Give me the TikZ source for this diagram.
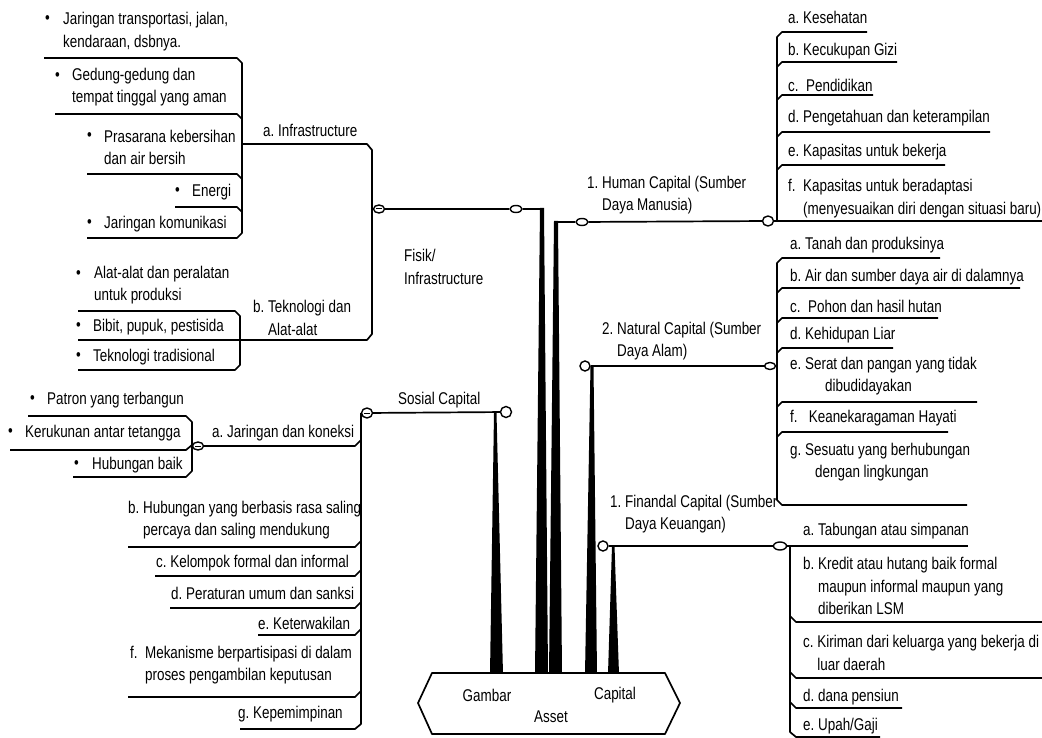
\documentclass[tikz,border=0pt]{standalone}
\usepackage{fontspec}
\newfontfamily\cond{Liberation Sans}[FakeStretch=0.79]
\usetikzlibrary{shapes.geometric}
\newcommand\fsz{\cond\fontsize{17}{22.5}\selectfont}
\begin{document}
\begin{tikzpicture}[x=1pt,y=-1pt,
  ln/.style={line width=1.7pt, line join=round},
  txt/.style={font=\fsz, inner sep=0pt, anchor=west, align=left, text=black},
  knob/.style={ellipse, draw, line width=1.4pt, fill=white, minimum width=11pt, minimum height=8pt, inner sep=0pt},
  rknob/.style={knob, minimum width=10pt, minimum height=10pt},
  knobbar/.style={knob, path picture={\draw[line width=1pt] ([xshift=-3pt]path picture bounding box.center) -- ([xshift=3pt]path picture bounding box.center);}},
  knobdot/.style={knob, minimum height=10pt, path picture={\fill (path picture bounding box.center) circle (1.3pt);}},
  spike/.style={fill=black}
]
\fill[white] (0,0) rectangle (1042,738);
\useasboundingbox (0,0) rectangle (1042,738);

% ---------- knobs ----------
\node[knobbar] (fk1) at (379,209) {};
\node[knob, minimum width=12pt, minimum height=7pt] (fk2) at (516,209) {};
\node[knob, minimum width=12pt, minimum height=7pt] (hk1) at (582,222) {};
\node[knobdot] (hk2) at (768,221) {};
\node[knobbar, minimum height=10pt] (sk1) at (367,413) {};
\node[rknob, minimum width=11pt, minimum height=11pt] (sk2) at (506,412) {};
\node[knobbar] (jk) at (198,446) {};
\node[rknob] (nk1) at (585,366) {};
\node[knob, minimum height=7pt] (nk2) at (770,366) {};
\node[rknob] (ck1) at (603,546) {};
\node[knob, minimum width=13pt] (ck2) at (780,546) {};

% ---------- spikes ----------
\fill[spike] (494,413) -- (496.5,413) -- (503,674) -- (490,674) -- cycle;
\fill[spike] (540,208) -- (544,208) -- (548,674) -- (535,674) -- cycle;
\fill[spike] (554,221) -- (558,221) -- (562,674) -- (549,674) -- cycle;
\fill[spike] (590.5,366) -- (593.5,366) -- (597,674) -- (585,674) -- cycle;
\fill[spike] (612,546) -- (614.5,546) -- (619,674) -- (608,674) -- cycle;

% ---------- Asset hexagon ----------
\draw[ln, fill=white] (432,673) -- (665,673) -- (680,703) -- (665,734) -- (432,734) -- (418,703) -- cycle;
\node[font=\fsz, inner sep=0pt] (gam) at (487,695) {Gambar};
\node[font=\fsz, inner sep=0pt] (cap) at (615,695) {Capital};
\node[font=\fsz, inner sep=0pt] (ass) at (551,717) {Asset};

% ---------- Fisik / Infrastructure ----------
\draw[ln] (fk1) -- (fk2);
\draw[ln] (fk2) -- (544,209);
\draw[ln] (242,144) -- (367,144) -- (372,150) -- (372,334) -- (367,340) -- (78,340);
\draw[ln] (44,58) -- (237,58) -- (242,63) -- (242,233) -- (237,238) -- (87,238);
\draw[ln] (55,114) -- (237,114) -- (242,119);
\draw[ln] (87,174) -- (237,174) -- (242,179);
\draw[ln] (175,207) -- (237,207) -- (242,212);
\draw[ln] (78,311) -- (235,311) -- (240,316) -- (240,365) -- (235,370) -- (78,370);

\node[txt] (fis) at (404,267) {Fisik/\\Infrastructure};
\node[txt] (inf) at (263,130) {a.~Infrastructure};
\node[txt] (tek) at (253,318) {b.~Teknologi dan\\\phantom{b.~}Alat-alat};

\node[txt] (bi1) at (45,20) {•};
\node[txt] (ti1) at (63,31.5) {Jaringan transportasi, jalan,\\kendaraan, dsbnya.};
\node[txt] (bi2) at (55,77) {•};
\node[txt] (ti2) at (72,87) {Gedung-gedung dan\\tempat tinggal yang aman};
\node[txt] (bi3) at (87,137) {•};
\node[txt] (ti3) at (104,147.5) {Prasarana kebersihan\\dan air bersih};
\node[txt] (bi4) at (175,192) {•};
\node[txt] (ti4) at (192,192) {Energi};
\node[txt] (bi5) at (87,224) {•};
\node[txt] (ti5) at (104,224) {Jaringan komunikasi};

\node[txt] (bt1) at (76,275) {•};
\node[txt] (tt1) at (94,285) {Alat-alat dan peralatan\\untuk produksi};
\node[txt] (bt2) at (76,327) {•};
\node[txt] (tt2) at (93,327) {Bibit, pupuk, pestisida};
\node[txt] (bt3) at (76,357) {•};
\node[txt] (tt3) at (93,357) {Teknologi tradisional};

% ---------- Sosial Capital ----------
\draw[ln] (sk1) -- (sk2);
\draw[ln] (361,413) -- (361,724) -- (355,729) -- (240,729);
\draw[ln] (jk) -- (355,446) -- (361,440);
\draw[ln] (28,416) -- (186,416) -- (192,422) -- (192,471) -- (186,477) -- (73,477);
\draw[ln] (10,450) -- (186,450) -- (192,445);
\draw[ln] (128,547) -- (355,547) -- (361,541);
\draw[ln] (155,576) -- (355,576) -- (361,570);
\draw[ln] (170,608) -- (355,608) -- (361,602);
\draw[ln] (258,635) -- (355,635) -- (361,629);
\draw[ln] (128,697) -- (355,697) -- (361,691);

\node[txt] (sos) at (398,400) {Sosial Capital};
\node[txt] (jar) at (212,433) {a.~Jaringan dan koneksi};
\node[txt] (bj1) at (30,400) {•};
\node[txt] (tj1) at (47,400) {Patron yang terbangun};
\node[txt] (bj2) at (8,433) {•};
\node[txt] (tj2) at (25,433) {Kerukunan antar tetangga};
\node[txt] (bj3) at (74,465) {•};
\node[txt] (tj3) at (92,465) {Hubungan baik};

\node[txt] (sb) at (128,520) {b.~Hubungan yang berbasis rasa saling\\\phantom{b.~}percaya dan saling mendukung};
\node[txt] (sc) at (156,563) {c.~Kelompok formal dan informal};
\node[txt] (sd) at (171,593) {d.~Peraturan umum dan sanksi};
\node[txt] (se) at (258,623) {e.~Keterwakilan};
\node[txt] (sf) at (130,665) {f.~~Mekanisme berpartisipasi di dalam\\\phantom{f.~~}proses pengambilan keputusan};
\node[txt] (sg) at (238,714) {g.~Kepemimpinan};

% ---------- Human Capital ----------
\draw[ln] (554.5,222) -- (hk1);
\draw[ln] (hk1) -- (hk2);
\draw[ln] (hk2) -- (1042,221);
\draw[ln] (777,221) -- (777,37) -- (782,32) -- (867,32);
\draw[ln] (777,67) -- (782,62) -- (897,62);
\draw[ln] (777,100) -- (782,95) -- (873,95);
\draw[ln] (777,137) -- (782,132) -- (990,132);
\draw[ln] (777,170) -- (782,165) -- (945,165);

\node[txt] (hum) at (587,195) {1.~Human Capital (Sumber\\\phantom{1.~}Daya Manusia)};
\node[txt] (ha) at (788,17) {a.~Kesehatan};
\node[txt] (hb) at (788,51) {b.~Kecukupan Gizi};
\node[txt] (hc) at (788,85) {c.~~Pendidikan};
\node[txt] (hd) at (788,118) {d.~Pengetahuan dan keterampilan};
\node[txt] (he) at (788,152) {e.~Kapasitas untuk bekerja};
\node[txt] (hf) at (788,198.5) {f.~~Kapasitas untuk beradaptasi\\\phantom{f.~~}(menyesuaikan diri dengan situasi baru)};

% ---------- Natural Capital ----------
\draw[ln] (nk1) -- (nk2);
\draw[ln] (nk2) -- (777,366);
\draw[ln] (940,258) -- (782,258) -- (777,263) -- (777,500) -- (782,505) -- (967,505);
\draw[ln] (777,293) -- (782,288) -- (1020,288);
\draw[ln] (777,323) -- (782,318) -- (938,318);
\draw[ln] (777,353) -- (782,348) -- (893,348);
\draw[ln] (777,407) -- (782,402) -- (977,402);
\draw[ln] (777,437) -- (782,432) -- (948,432);

\node[txt] (nat) at (602,341) {2.~Natural Capital (Sumber\\\phantom{2.~}Daya Alam)};
\node[txt] (na) at (790,245) {a.~Tanah dan produksinya};
\node[txt] (nb) at (790,277) {b.~Air dan sumber daya air di dalamnya};
\node[txt] (nc) at (790,306) {c.~~Pohon dan hasil hutan};
\node[txt] (nd) at (790,335) {d.~Kehidupan Liar};
\node[txt] (ne) at (790,376) {e.~Serat dan pangan yang tidak\\\hspace*{35pt}dibudidayakan};
\node[txt] (nf) at (790,418) {f.~~~Keanekaragaman Hayati};
\node[txt] (ng) at (790,462) {g.~Sesuatu yang berhubungan\\\hspace*{25pt}dengan lingkungan};

% ---------- Financial Capital ----------
\draw[ln] (ck1) -- (ck2);
\draw[ln] (ck2) -- (968,546);
\draw[ln] (790,546) -- (790,732) -- (796,737) -- (880,737);
\draw[ln] (790,616) -- (796,622) -- (1042,622);
\draw[ln] (790,672) -- (796,678) -- (1042,678);
\draw[ln] (790,702) -- (796,708) -- (902,708);

\node[txt] (fin) at (610,514) {1.~Finandal Capital (Sumber\\\phantom{1.~}Daya Keuangan)};
\node[txt] (fa) at (803,531) {a.~Tabungan atau simpanan};
\node[txt] (fb) at (803,586) {b.~Kredit atau hutang baik formal\\\phantom{b.~}maupun informal maupun yang\\\phantom{b.~}diberikan LSM};
\node[txt] (fc) at (803,653) {c.~Kiriman dari keluarga yang bekerja di\\\phantom{c.~}luar daerah};
\node[txt] (fd) at (803,697) {d.~dana pensiun};
\node[txt] (fe) at (803,726) {e.~Upah/Gaji};
\end{tikzpicture}
\end{document}
